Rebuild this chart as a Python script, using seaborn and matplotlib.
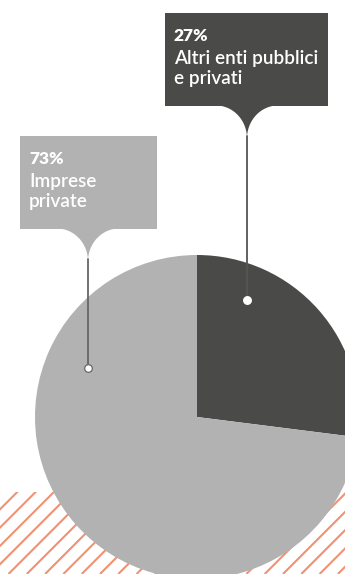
import numpy as np
import matplotlib
matplotlib.use("Agg")
import matplotlib.pyplot as plt
import seaborn as sns
from matplotlib.patches import Rectangle, Polygon

# Data
categories = ["Altri enti pubblici\ne privati", "Imprese\nprivate"]
shares = [27, 73]
pct_labels = ["27%", "73%"]
colors = ["#4a4a48", "#b2b2b2"]

W, H = 345, 574
sns.set_theme(style="white")
plt.rcParams["font.family"] = ["Lato", "DejaVu Sans"]

fig = plt.figure(figsize=(W / 100, H / 100), dpi=100)
ax = fig.add_axes([0, 0, 1, 1])


def Y(py):
    """Convert a top-down pixel row to the y-up data coordinate."""
    return H - py


# Diagonal hatched band behind the pie
band = Rectangle((0, Y(574)), W, 574 - 492, facecolor="none", edgecolor="none")
ax.add_patch(band)
for xb in np.arange(283 - 18.3 * 25, W + 20, 18.3):
    ln, = ax.plot([xb, xb + 120], [Y(574), Y(574) + 120], color="#ef9274",
                  lw=1.5, solid_capstyle="butt", zorder=1)
    ln.set_clip_path(band)

# Pie
cx, cy, r = 197, Y(417), 162
wedges, _ = ax.pie(shares, colors=colors, startangle=90, counterclock=False,
                   center=(cx, cy), radius=r,
                   wedgeprops=dict(linewidth=0, zorder=2))


def stem(xc, top, half, h, color):
    t = np.linspace(0, np.pi / 2, 40)
    ys = top + h - h * np.cos(t)
    left = np.column_stack([xc - half + half * np.sin(t), ys])
    right = np.column_stack([xc + half - half * np.sin(t), ys])[::-1]
    pts = np.vstack([left, right])
    pts[:, 1] = Y(pts[:, 1])
    ax.add_patch(Polygon(pts, closed=True, facecolor=color, edgecolor="none", zorder=3))


def callout(box, tip, dot, pct, text, color, line_color, dot_edge):
    x0, y0, x1, y1 = box
    ax.add_patch(Rectangle((x0, Y(y1)), x1 - x0, y1 - y0, facecolor=color,
                           edgecolor="none", zorder=3))
    stem(tip, y1 - 0.5, 31, 33, color)
    ax.plot([tip, tip], [Y(y1 + 30), Y(dot)], color=line_color, lw=1.3, zorder=4)
    ax.plot([tip], [Y(dot)], marker="o", ms=5.5, mfc="white", mec=dot_edge,
            mew=0.9, zorder=5)
    tx = x0 + 9
    ax.text(tx, Y(y0 + 28), pct, color="white", fontsize=12.5, fontweight=800,
            va="baseline", ha="left", zorder=6)
    for i, line in enumerate(text.split("\n")):
        ax.text(tx, Y(y0 + 51 + 20 * i), line, color="white", fontsize=13.6,
                fontweight="semibold", va="baseline", ha="left", zorder=6)


callout((165, 13, 328, 106), 247, 300, pct_labels[0], categories[0],
        colors[0], "#555555", "white")
callout((20, 136, 157, 229), 88, 368, pct_labels[1], categories[1],
        colors[1], "#666666", "#666666")

ax.set_xlim(0, W)
ax.set_ylim(0, H)
ax.set_aspect("auto")
ax.axis("off")

fig.savefig("out.png", dpi=100)
